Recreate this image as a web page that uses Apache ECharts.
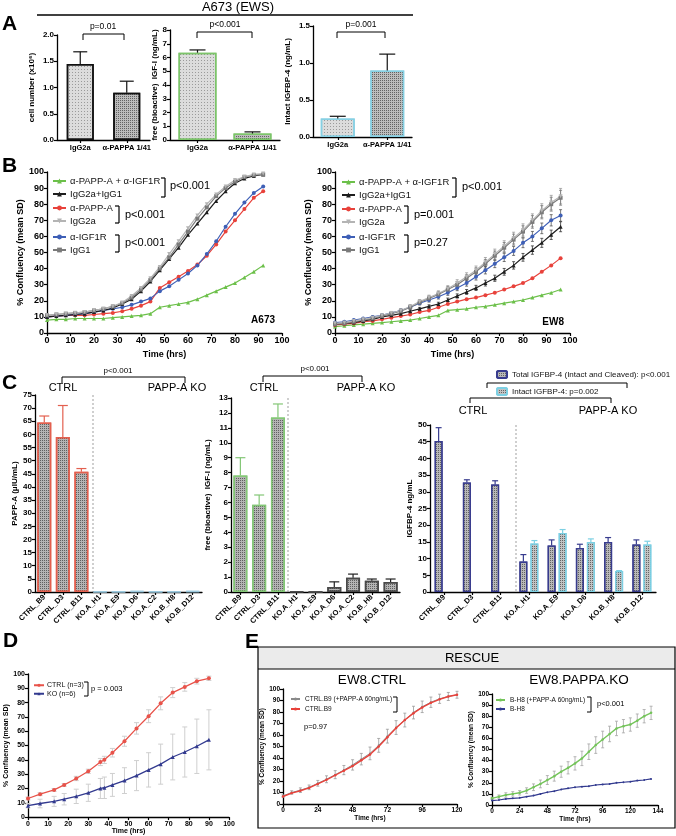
<!DOCTYPE html>
<html><head><meta charset="utf-8">
<script src="https://cdn.jsdelivr.net/npm/echarts@6/dist/echarts.min.js"></script>
<style>html,body{margin:0;padding:0;background:#fff}#c{width:676px;height:836px}</style>
</head><body><div id="c"></div>
<script>
// ================= DATA =================
// Panel A
const aCats = ['IgG2a', 'α-PAPPA 1/41'];
const aCell = [1.45, 0.9];
const aCellErr = [0.23, 0.22];
const aIgf = [6.35, 0.47];
const aIgfErr = [0.2, 0.12];
const aBp4 = [0.25, 0.9];
const aBp4Err = [0.03, 0.22];

// Panel B (A673)
const tA673 = [0,4,8,12,16,20,24,28,32,36,40,44,48,52,56,60,64,68,72,76,80,84,88,92];
const a673Green = [8,8.5,8.5,9,9,9,9,9.5,10,10.5,11,12,16,17,18,19,21,23.5,26,28.5,31,34.5,38,42];
const a673Black = [10,10.5,11,11.5,12,13,14,15.5,18,21,26,32,39,46,53,61,68,75,82,88,93,96,97.5,98.5];
const a673Red = [10,10.5,11,11,11,11.5,12,12.5,13.5,15,17,19.5,28,31.5,35,38.5,42.5,48,55,63,70,77,84,88];
const a673LightGray = [11,11.5,12,12.5,13,14,15,16.5,19,23,28,34,41,49,57,65,73,80,86,91,95,97,98.5,99];
const a673Blue = [10,10.5,11,11.5,12,13,14,15,16,17.5,19.5,21.5,26,29,33,37,42,49,57,66,74,81,87,91];
const a673Gray = [11,11.5,12,12.5,13,14,15,16.5,18.5,22,27,33,40,47,55,63,71,78,85,90,94,97,98,98.5];

// Panel B (EW8)
const tEW8 = [0,4,8,12,16,20,24,28,32,36,40,44,48,52,56,60,64,68,72,76,80,84,88,92,96];
const ew8Green = [4,4.5,5,5.5,6,6.5,7,7.5,8,9,10,11,14,14.5,15,16,16.5,17.5,18.5,19.5,20.5,22,23.5,25,27];
const ew8Black = [5.5,6,6.5,7.5,8.5,10,11,12,13.5,15,16.5,18,20.5,23,25.5,28,31,34,38,42,47,51.5,56,61,66];
const ew8Red = [5,5.5,6,7,7.5,8.5,9.5,10.5,11.5,13,14,16,18,19.5,21,22,23.5,25,27,29,31,34,38,42,46.5];
const ew8LightGray = [6,6.5,7.5,8.5,9.5,11,12.5,14,16.5,19.5,22,24.5,27.5,31,35,39,44,49,54,59,64,70,76,81,85];
const ew8Blue = [6.5,7,8,9,10,11,12.5,14,16,18.5,20.5,22.5,25,28,31,35,39,43,47,51,56,60,65,70,73];
const ew8Gray = [5.5,6,7,8,9,10.5,12,13.5,16,19,21.5,24,27,30,34,38,43,48,53,58,63,69,75,80,84];
const ew8LightGrayErr = [0.4,0.5,0.5,0.6,0.7,0.8,0.9,1.0,1.2,1.3,1.5,1.7,1.9,2.1,2.4,2.6,2.9,3.1,3.3,3.6,3.8,4.0,4.3,4.5,4.8];
const ew8GrayErr = [0.4,0.4,0.5,0.6,0.6,0.7,0.8,1.0,1.1,1.3,1.4,1.6,1.8,2.0,2.2,2.5,2.7,2.9,3.2,3.4,3.6,3.9,4.1,4.3,4.6];
const ew8BlueErr = [0.3,0.4,0.4,0.5,0.6,0.7,0.8,0.9,1.0,1.1,1.3,1.4,1.6,1.7,1.9,2.1,2.3,2.4,2.6,2.8,3.0,3.1,3.3,3.5,3.6];
const ew8BlackErr = [0.3,0.3,0.4,0.4,0.5,0.5,0.6,0.7,0.8,0.9,1.0,1.1,1.2,1.3,1.5,1.6,1.8,1.9,2.1,2.3,2.4,2.6,2.8,2.9,3.1];

// Panel C
const cCats = ['CTRL_B9','CTRL_D3','CTRL_B11','KO.A_H1','KO.A_E9','KO.A_D6','KO.A_C2','KO.B_H8','KO.B_D12'];
const cPappa = [64.5, 59, 45.8, 0.1, 0.1, 0.3, 0.1, 0.1, 0.3];
const cPappaErr = [2.5, 12, 1.2, 0, 0, 0, 0, 0, 0];
const cIgf = [7.8, 5.85, 11.7, 0.05, 0, 0.33, 0.96, 0.76, 0.67];
const cIgfErr = [1.2, 0.65, 0.9, 0, 0, 0.35, 0.24, 0.11, 0.2];
const c3Cats = ['CTRL_B9','CTRL_D3','CTRL_B11','KO.A_H1','KO.A_E9','KO.A_D6','KO.B_H8','KO.B_D12'];
const c3Total = [45.2, 32.8, 32.2, 9.1, 13.9, 13.2, 15.0, 14.2];
const c3TotalErr = [4.0, 0.8, 1.1, 2.1, 1.7, 1.1, 1.3, 1.4];
const c3Intact = ['-', '-', '-', 14.5, 17.7, 15.0, 6.3, 14.2];
const c3IntactErr = [0, 0, 0, 0.9, 1.0, 0.9, 0.1, 1.0];

// Panel D
const tD = [0,6,13,18,24,30,36,38,42,48,54,60,66,72,78,84,90];
const dCtrl = [13,16,19,22.5,27,32,38.5,40,45,53,62,70.5,79.5,87,91,95,97];
const dCtrlErr = [1,1,1,1,1.5,1.5,2.5,2.5,3,3.5,4,4.5,4.5,3.5,3,2,1.5];
const dKo = [8,9.5,11,12.5,14.5,17,20,20.5,22.5,25.5,29,33,37,42,45.5,49.5,54];
const dKoErr = [1.5,3,3.5,4,5,6,7,7.5,8,9,10.5,12,14,16,17.5,19,21];

// Panel E
const tE1 = [0,6,12,18,24,30,36,42,48,54,60,66,72,78,84,90,96,102,108,114,120];
const e1Ctrl = [6.5,9.5,11.5,14,17.5,21,25,29,33,38,43,50,58,66,73,79,84,88,91,93.5,95];
const e1CtrlPappa = [7,10,12,14.5,18,21.5,25.5,29.5,34,39,44,51,59,66.5,73,79.5,84.5,88.5,91.5,93.5,95];
const e1Err = [1,1.5,2,2,2.5,3,3.5,4,4.5,5,5.5,6,6,6,6,5.5,5,4.5,4,3.5,3];
const tE2 = [0,6,12,18,24,30,36,42,48,54,60,66,72,78,84,90,96,102,108,114,120,126,132,138];
const e2Pappa = [6,7.5,9,10,11,13,16,19,22.5,26,30,33.5,37.5,42,48,54,59,64,69,71,72.5,76,80,83];
const e2PappaErr = [1,1.5,2,2,2,2.5,3,3.5,4,4.5,5,5.5,6,6.5,7,7.5,7.5,7,6.5,6,6,6,6,6];
const e2Ko = [4,4.5,5.5,6,6.5,7.5,8.5,10,11.5,12.5,14,15,16,16.5,17,18,18.5,19,20,20.5,21,22,22.5,23.5];

// ================= CHART =================
const FONT = '"Liberation Sans", Arial, sans-serif';
const chart = echarts.init(document.getElementById('c'));

const decalLight = {symbol:'rect', symbolSize:1, dashArrayX:[1,2], dashArrayY:[1,2], color:'rgba(100,100,100,0.55)'};
const decalDark = {symbol:'rect', symbolSize:1, dashArrayX:[1,1], dashArrayY:[1,1], color:'rgba(40,40,40,0.6)'};

function ax(fs, extra) {
  const base = {
    axisLine:{show:true, onZero:false, lineStyle:{color:'#000', width:1.3}},
    axisTick:{show:true, length:3, lineStyle:{color:'#000', width:1.2}},
    axisLabel:{color:'#000', fontFamily:FONT, fontWeight:'bold', fontSize:fs, margin:3},
    splitLine:{show:false},
    nameTextStyle:{color:'#000', fontFamily:FONT, fontWeight:'bold', fontSize:fs},
    nameLocation:'middle'
  };
  const o = Object.assign({}, base, extra);
  if (extra.axisLabel) o.axisLabel = Object.assign({}, base.axisLabel, extra.axisLabel);
  if (extra.axisTick) o.axisTick = Object.assign({}, base.axisTick, extra.axisTick);
  return o;
}

const grids = [
  {left:57, top:35, width:93, height:105},    // 0 A1
  {left:170, top:30, width:110, height:110},  // 1 A2
  {left:313, top:26, width:99, height:111},   // 2 A3
  {left:47, top:172, width:235, height:161},  // 3 B1
  {left:335, top:172, width:235, height:161}, // 4 B2
  {left:35, top:395, width:167, height:197},  // 5 C1
  {left:231, top:398, width:169, height:194}, // 6 C2
  {left:430, top:425, width:226, height:167}, // 7 C3
  {left:28, top:674, width:201, height:144},  // 8 D
  {left:283, top:689, width:174, height:115}, // 9 E1
  {left:492, top:694, width:166, height:111}  // 10 E2
];

const f1 = v => v.toFixed(1);
const aX = gi => ax(7.5, {type:'category', gridIndex:gi, data:aCats, axisTick:{alignWithLabel:true}, axisLabel:{margin:4, interval:0}});
const xAxes = [
  aX(0), aX(1), aX(2),
  ax(9, {type:'value', gridIndex:3, min:0, max:100, interval:10, name:'Time (hrs)', nameGap:17}),
  ax(9, {type:'value', gridIndex:4, min:0, max:100, interval:10, name:'Time (hrs)', nameGap:17}),
  ax(7.5, {type:'category', gridIndex:5, data:cCats, axisTick:{alignWithLabel:true}, axisLabel:{rotate:45, interval:0, margin:4}}),
  ax(7.5, {type:'category', gridIndex:6, data:cCats, axisTick:{alignWithLabel:true}, axisLabel:{rotate:45, interval:0, margin:4}}),
  ax(7.5, {type:'category', gridIndex:7, data:c3Cats, axisTick:{alignWithLabel:true}, axisLabel:{rotate:45, interval:0, margin:4}}),
  ax(7, {type:'value', gridIndex:8, min:0, max:100, interval:10, name:'Time (hrs)', nameGap:10}),
  ax(6.5, {type:'value', gridIndex:9, min:0, max:120, interval:24, name:'Time (hrs)', nameGap:11}),
  ax(6.5, {type:'value', gridIndex:10, min:0, max:144, interval:24, name:'Time (hrs)', nameGap:10})
];
const yAxes = [
  ax(8, {type:'value', gridIndex:0, min:0, max:2, interval:0.5, axisLabel:{formatter:f1}, name:'cell number (x10⁶)', nameGap:21}),
  ax(8, {type:'value', gridIndex:1, min:0, max:8, interval:1, name:'free (bioactive)  IGF-I (ng/mL)', nameGap:9}),
  ax(8, {type:'value', gridIndex:2, min:0, max:1.5, interval:0.5, axisLabel:{formatter:f1}, name:'Intact IGFBP-4 (ng/mL)', nameGap:21}),
  ax(9, {type:'value', gridIndex:3, min:0, max:100, interval:10, name:'% Confluency (mean SD)', nameGap:17}),
  ax(9, {type:'value', gridIndex:4, min:0, max:100, interval:10, name:'% Confluency (mean SD)', nameGap:20}),
  ax(8, {type:'value', gridIndex:5, min:0, max:75, interval:5, name:'PAPP-A (μIU/mL)', nameGap:13}),
  ax(8, {type:'value', gridIndex:6, min:0, max:13, interval:1, name:'free (bioactive)  IGF-I (ng/mL)', nameGap:19}),
  ax(8, {type:'value', gridIndex:7, min:0, max:50, interval:5, name:'IGFBP-4 ng/mL', nameGap:12}),
  ax(7, {type:'value', gridIndex:8, min:0, max:100, interval:10, name:'% Confluency (mean SD)', nameGap:13}),
  ax(6.5, {type:'value', gridIndex:9, min:0, max:100, interval:10, name:'% Confluency (mean SD)', nameGap:13}),
  ax(6.5, {type:'value', gridIndex:10, min:0, max:100, interval:10, name:'% Confluency (mean SD)', nameGap:12})
];

const series = [];

// ---- bar helpers ----
function barErr(gi, vals, errs, colors, offset, cap) {
  return {type:'custom', xAxisIndex:gi, yAxisIndex:gi, silent:true, z:4,
    data: vals.map((v,i) => [i, (v === '-' ? NaN : v), errs[i]]),
    renderItem: function(params, api) {
      const i = api.value(0), v = api.value(1), e = api.value(2);
      if (!(e > 0) || isNaN(v)) return null;
      const p0 = api.coord([i, v]), p1 = api.coord([i, v + e]);
      const x = p0[0] + offset;
      const st = {stroke: colors[i], lineWidth: 1.2};
      return {type:'group', children:[
        {type:'line', shape:{x1:x, y1:p0[1], x2:x, y2:p1[1]}, style:st},
        {type:'line', shape:{x1:x-cap, y1:p1[1], x2:x+cap, y2:p1[1]}, style:st}
      ]};
    }};
}
function aBar(gi, vals, border, bw) {
  return {type:'bar', xAxisIndex:gi, yAxisIndex:gi, barWidth:bw, z:3,
    data: vals.map((v,i) => ({value:v, itemStyle: i === 0 ?
      {color:'#dcdcdc', borderColor:border, borderWidth:1.5, decal:decalLight} :
      {color:'#bcbcbc', borderColor:border, borderWidth:1.5, decal:decalDark}}))};
}
series.push(aBar(0, aCell, '#111', 27), barErr(0, aCell, aCellErr, ['#111','#111'], 0, 7));
series.push(aBar(1, aIgf, '#7cc46a', 38), barErr(1, aIgf, aIgfErr, ['#111','#111'], 0, 8));
series.push(aBar(2, aBp4, '#86d0e3', 34), barErr(2, aBp4, aBp4Err, ['#111','#111'], 0, 8));

// ---- line helpers ----
function lineS(name, gi, xs, ys, color, symbol, size, rot, lw, z) {
  return {type:'line', name:name, xAxisIndex:gi, yAxisIndex:gi,
    data: xs.map((x,i) => [x, ys[i]]), symbol:symbol, symbolSize:size, symbolRotate:rot || 0,
    showSymbol:true, lineStyle:{color:color, width:lw || 1.2}, itemStyle:{color:color}, z:z || 3};
}
function lineErr(gi, xs, ys, es, color, cap, lw) {
  return {type:'custom', xAxisIndex:gi, yAxisIndex:gi, silent:true, z:2,
    data: xs.map((x,i) => [x, ys[i], es[i]]),
    renderItem: function(params, api) {
      const x = api.value(0), v = api.value(1), e = api.value(2);
      const a = api.coord([x, v + e]), b = api.coord([x, v - e]);
      const st = {stroke:color, lineWidth:lw || 0.8};
      return {type:'group', children:[
        {type:'line', shape:{x1:a[0], y1:a[1], x2:b[0], y2:b[1]}, style:st},
        {type:'line', shape:{x1:a[0]-cap, y1:a[1], x2:a[0]+cap, y2:a[1]}, style:st},
        {type:'line', shape:{x1:b[0]-cap, y1:b[1], x2:b[0]+cap, y2:b[1]}, style:st}
      ]};
    }};
}

const N_GREEN = 'α-PAPP-A + α-IGF1R', N_BLACK = 'IgG2a+IgG1', N_RED = 'α-PAPP-A',
      N_LGRAY = 'IgG2a', N_BLUE = 'α-IGF1R', N_GRAY = 'IgG1';
const C_GREEN = '#6cc04a', C_BLACK = '#1e1e1e', C_RED = '#e8423b', C_LGRAY = '#b4b4b4', C_BLUE = '#3e5fb6', C_GRAY = '#7a7a7a';

// B1 A673
series.push(lineS(N_GREEN, 3, tA673, a673Green, C_GREEN, 'triangle', 4));
series.push(lineS(N_RED, 3, tA673, a673Red, C_RED, 'circle', 4));
series.push(lineS(N_BLUE, 3, tA673, a673Blue, C_BLUE, 'circle', 4));
series.push(lineS(N_BLACK, 3, tA673, a673Black, C_BLACK, 'triangle', 4));
series.push(lineS(N_GRAY, 3, tA673, a673Gray, C_GRAY, 'rect', 4));
series.push(lineS(N_LGRAY, 3, tA673, a673LightGray, C_LGRAY, 'triangle', 4, 180));
// B2 EW8
series.push(lineErr(4, tEW8, ew8LightGray, ew8LightGrayErr, '#9a9a9a', 1.5));
series.push(lineErr(4, tEW8, ew8Gray, ew8GrayErr, '#777', 1.5));
series.push(lineErr(4, tEW8, ew8Blue, ew8BlueErr, '#555', 1.5));
series.push(lineErr(4, tEW8, ew8Black, ew8BlackErr, '#333', 1.5));
series.push(lineS(N_GREEN, 4, tEW8, ew8Green, C_GREEN, 'triangle', 4));
series.push(lineS(N_RED, 4, tEW8, ew8Red, C_RED, 'circle', 4));
series.push(lineS(N_BLACK, 4, tEW8, ew8Black, C_BLACK, 'triangle', 4));
series.push(lineS(N_BLUE, 4, tEW8, ew8Blue, C_BLUE, 'circle', 4));
series.push(lineS(N_GRAY, 4, tEW8, ew8Gray, C_GRAY, 'rect', 4));
series.push(lineS(N_LGRAY, 4, tEW8, ew8LightGray, C_LGRAY, 'triangle', 4, 180));

// C1, C2
function cBar(gi, vals, ctrlBorder, koBorder) {
  return {type:'bar', xAxisIndex:gi, yAxisIndex:gi, barWidth:14, z:3,
    data: vals.map((v,i) => ({value:v, itemStyle:{color:'#b4b4b4', borderColor: i < 3 ? ctrlBorder : koBorder, borderWidth:1.5, decal:decalDark}}))};
}
series.push(cBar(5, cPappa, '#e3604f', '#9cc9de'));
series.push(barErr(5, cPappa, cPappaErr, cCats.map(() => '#e3604f'), 0, 5));
series.push(cBar(6, cIgf, '#84c777', '#4a4a4a'));
series.push(barErr(6, cIgf, cIgfErr, cCats.map((c,i) => i < 3 ? '#84c777' : '#222'), 0, 5));

// C3
const C3_TOTAL = 'Total IGFBP-4 (Intact and Cleaved): p<0.001';
const C3_INTACT = 'Intact IGFBP-4: p=0.002';
series.push({type:'bar', name:C3_TOTAL, xAxisIndex:7, yAxisIndex:7, data:c3Total, barWidth:8, barGap:'37.5%', z:3,
  itemStyle:{color:'#b8b8b8', borderColor:'#383c8e', borderWidth:1.3, decal:decalDark}});
series.push({type:'bar', name:C3_INTACT, xAxisIndex:7, yAxisIndex:7, data:c3Intact, barWidth:8, barGap:'37.5%', z:3,
  itemStyle:{color:'#c2c2c2', borderColor:'#7dd0e3', borderWidth:1.3, decal:decalDark}});
series.push(barErr(7, c3Total, c3TotalErr, c3Cats.map(() => '#383c8e'), -5.5, 3));
series.push(barErr(7, c3Intact, c3IntactErr, c3Cats.map(() => '#7dd0e3'), 5.5, 3));

// D
const D_CTRL = 'CTRL (n=3)', D_KO = 'KO (n=6)';
series.push(lineErr(8, tD, dKo, dKoErr, '#cfcfcf', 2.5, 1));
series.push(lineErr(8, tD, dCtrl, dCtrlErr, '#cfcfcf', 2.5, 1));
series.push(lineS(D_CTRL, 8, tD, dCtrl, '#e8534a', 'circle', 4, 0, 1.3));
series.push(lineS(D_KO, 8, tD, dKo, '#323a8f', 'triangle', 4, 0, 1.3));

// E1
const E1_P = 'CTRL.B9 (+PAPP-A 60ng/mL)', E1_C = 'CTRL.B9';
series.push(lineErr(9, tE1, e1CtrlPappa, e1Err, '#9a9a9a', 1.5, 0.8));
series.push(lineS(E1_P, 9, tE1, e1CtrlPappa, '#8a8a8a', 'circle', 2, 0, 1));
series.push(lineS(E1_C, 9, tE1, e1Ctrl, '#e8423b', 'circle', 2.5, 0, 1.4));
// E2
const E2_P = 'B-H8 (+PAPP-A 60ng/mL)', E2_K = 'B-H8';
series.push(lineErr(10, tE2, e2Pappa, e2PappaErr, '#a5a5a5', 1.5, 0.8));
series.push(lineS(E2_P, 10, tE2, e2Pappa, '#74c45a', 'circle', 2.5, 0, 1.4));
series.push(lineS(E2_K, 10, tE2, e2Ko, '#323a8f', 'circle', 2, 0, 1.2));

// ---- legends ----
function lg(data, left, top, o) {
  return Object.assign({data:data, left:left, top:top, orient:'vertical', padding:0, selectedMode:false,
    itemWidth:13, itemHeight:6, itemGap:1,
    textStyle:{fontFamily:FONT, fontSize:9.5, color:'#111', lineHeight:12, padding:[0,0,0,-1]}}, o || {});
}
const legends = [
  lg([N_GREEN, N_BLACK], 52, 175), lg([N_RED, N_LGRAY], 52, 202), lg([N_BLUE, N_GRAY], 52, 231),
  lg([N_GREEN, N_BLACK], 341, 176), lg([N_RED, N_LGRAY], 341, 203), lg([N_BLUE, N_GRAY], 341, 231),
  lg([C3_TOTAL, C3_INTACT], 496, 370, {itemWidth:10, itemHeight:7, itemGap:8, textStyle:{fontFamily:FONT, fontSize:8, color:'#111', lineHeight:9}}),
  lg([D_CTRL, D_KO], 33, 681, {itemWidth:10, itemHeight:4, itemGap:0, textStyle:{fontFamily:FONT, fontSize:7, color:'#111', lineHeight:8.5, padding:[0,0,0,-2]}}),
  lg([E1_P, E1_C], 290, 695, {itemWidth:9, itemHeight:4, itemGap:2, textStyle:{fontFamily:FONT, fontSize:6.5, color:'#111', lineHeight:8}}),
  lg([E2_P, E2_K], 495, 696, {itemWidth:9, itemHeight:4, itemGap:1, textStyle:{fontFamily:FONT, fontSize:6.5, color:'#111', lineHeight:8}})
];

// ---- graphics (annotations) ----
const G = [];
function T(x, y, text, o) {
  o = o || {};
  G.push({type:'text', x:x, y:y, z:20, silent:true, style:{text:text, fill:'#000',
    font:(o.w || 'normal') + ' ' + (o.s || 11) + 'px ' + FONT,
    textAlign:o.a || 'left', align:o.a || 'left', textVerticalAlign:'middle', verticalAlign:'middle'}});
}
function L(x1, y1, x2, y2, o) {
  o = o || {};
  G.push({type:'line', z:20, silent:true, shape:{x1:x1, y1:y1, x2:x2, y2:y2},
    style:{stroke:o.c || '#000', lineWidth:o.lw || 1, lineDash:o.dash || null}});
}
function bracketDown(x1, x2, y, drop, lw) { L(x1, y, x2, y, {lw:lw||1}); L(x1, y, x1, y+drop, {lw:lw||1}); L(x2, y, x2, y+drop, {lw:lw||1}); }
function bracketRight(x, y1, y2, lw) { L(x-4, y1, x, y1, {lw:lw||1.2}); L(x, y1, x, y2, {lw:lw||1.2}); L(x-4, y2, x, y2, {lw:lw||1.2}); }

// panel letters
T(2, 24, 'A', {s:21, w:'bold'}); T(2, 166, 'B', {s:21, w:'bold'}); T(2, 383, 'C', {s:21, w:'bold'});
T(3, 641, 'D', {s:21, w:'bold'}); T(245, 642, 'E', {s:21, w:'bold'});
// A
T(238, 7, 'A673 (EWS)', {s:13, a:'center'});
L(37, 15, 413, 15, {lw:1.3});
T(103, 27, 'p=0.01', {s:8.5, a:'center'}); bracketDown(83, 124, 34, 6);
T(225, 25, 'p<0.001', {s:8.5, a:'center'}); bracketDown(197, 252, 32, 6);
T(361, 25, 'p=0.001', {s:8.5, a:'center'}); bracketDown(337, 385, 32, 6);
// B
bracketRight(165, 178, 197); T(170, 186, 'p<0.001', {s:11});
bracketRight(119, 206, 223); T(125, 215, 'p<0.001', {s:11});
bracketRight(119, 235, 252); T(125, 243, 'p<0.001', {s:11});
T(275, 320, 'A673', {s:10, w:'bold', a:'right'});
bracketRight(456, 178, 197); T(462, 187, 'p<0.001', {s:11});
bracketRight(408, 206, 223); T(414, 215, 'p=0.001', {s:11});
bracketRight(408, 235, 252); T(414, 243, 'p=0.27', {s:11});
T(564, 322, 'EW8', {s:10, w:'bold', a:'right'});
// C
T(63, 388, 'CTRL', {s:11, a:'center'}); T(177, 388, 'PAPP-A KO', {s:11, a:'center'});
T(118, 371, 'p<0.001', {s:8, a:'center'}); bracketDown(62, 185, 377, 6);
L(93, 395, 93, 592, {c:'#888', lw:0.8, dash:[2,2]});
T(264, 388, 'CTRL', {s:11, a:'center'}); T(366, 388, 'PAPP-A KO', {s:11, a:'center'});
T(315, 369, 'p<0.001', {s:8, a:'center'}); bracketDown(263, 362, 376, 6);
L(288, 398, 288, 592, {c:'#888', lw:0.8, dash:[2,2]});
bracketDown(487, 627, 383, 5); bracketDown(470, 611, 398, 5);
T(473, 411, 'CTRL', {s:11, a:'center'}); T(608, 411, 'PAPP-A KO', {s:11, a:'center'});
L(516, 425, 516, 592, {c:'#888', lw:0.8, dash:[2,2]});
// D
bracketRight(88, 682, 696, 1); T(91, 689, 'p = 0.003', {s:7.5});
// E
G.push({type:'rect', z:1, silent:true, shape:{x:258, y:647, width:417, height:22}, style:{fill:'#ebebeb', stroke:null}});
G.push({type:'rect', z:19, silent:true, shape:{x:258, y:647, width:417, height:181}, style:{fill:null, stroke:'#000', lineWidth:1.2}});
L(258, 669, 675, 669, {lw:1});
T(472, 658, 'RESCUE', {s:13, a:'center'});
T(372, 680, 'EW8.CTRL', {s:13.5, a:'center'});
T(579, 680, 'EW8.PAPPA.KO', {s:13.5, a:'center'});
bracketRight(397, 697, 712, 1); T(304, 727, 'p=0.97', {s:7.5});
bracketRight(591, 697, 712, 1); T(597, 704, 'p<0.001', {s:7.5});

chart.setOption({
  animation:false,
  textStyle:{fontFamily:FONT},
  grid:grids, xAxis:xAxes, yAxis:yAxes, legend:legends, series:series, graphic:G
});
</script></body></html>
